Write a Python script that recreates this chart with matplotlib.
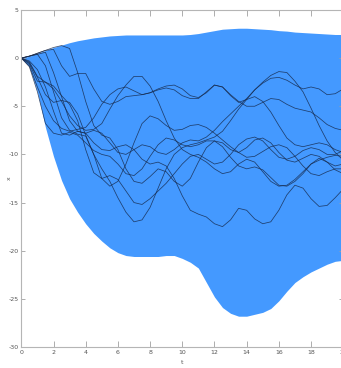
import numpy as np
import matplotlib
matplotlib.use("Agg")
import matplotlib.pyplot as plt

t = np.arange(0, 20.5, 0.5)

upper = [0, 0.2, 0.5, 0.8, 1.1, 1.35, 1.6, 1.8, 1.95, 2.1, 2.2, 2.3, 2.35, 2.4, 2.4, 2.4,
         2.4, 2.4, 2.4, 2.4, 2.4, 2.45, 2.55, 2.7, 2.85, 3.0, 3.05, 3.1, 3.1, 3.05, 3.0, 2.95,
         2.85, 2.8, 2.7, 2.65, 2.6, 2.55, 2.5, 2.45, 2.45]
lower = [0, -0.9, -3.5, -7.2, -10.2, -12.7, -14.6, -16.0, -17.2, -18.2, -19.0, -19.7, -20.2,
         -20.5, -20.6, -20.6, -20.6, -20.6, -20.5, -20.5, -20.8, -21.2, -21.8, -23.3, -24.8,
         -25.9, -26.5, -26.8, -26.8, -26.6, -26.4, -26.0, -25.2, -24.2, -23.3, -22.7, -22.2,
         -21.8, -21.4, -21.1, -21.0]

c1 = [0, 0.2, 0.5, 0.8, 1.1, 1.3, 1.0, -1.5, -4.5, -7.0, -8.0, -8.3, -9.5, -11.5, -12.8, -13.0,
      -12.3, -11.5, -11.8, -12.8, -13.3, -12.5, -10.8, -9.3, -8.6, -8.8, -9.5, -9.8, -9.3, -8.5,
      -8.3, -8.8, -9.8, -10.6, -10.8, -10.4, -10.0, -10.2, -10.8, -11.2, -11.0]
c2 = [0, 0.2, 0.5, 0.8, 0.9, -0.8, -1.9, -1.6, -1.6, -3.2, -4.5, -4.8, -4.5, -4.0, -3.9, -3.8,
      -3.6, -3.3, -3.1, -3.3, -3.9, -4.2, -4.2, -3.5, -2.8, -3.0, -3.8, -4.5, -5.0, -5.0, -4.6,
      -4.2, -4.3, -4.8, -5.2, -5.4, -5.6, -6.2, -6.9, -7.3, -7.5]
c3 = [0, -0.6, -2.4, -2.5, -3.2, -4.5, -6.0, -7.0, -7.5, -7.4, -6.8, -5.3, -3.9, -2.8, -1.9,
      -1.9, -2.9, -4.5, -6.5, -8.3, -9.5, -10.0, -10.3, -10.8, -11.5, -12.0, -11.8, -11.0,
      -10.5, -10.8, -11.8, -12.8, -13.3, -13.2, -12.6, -11.8, -11.0, -10.6, -10.3, -10.1, -10.2]
c4 = [0, -0.5, -2.0, -3.8, -4.6, -4.4, -4.6, -5.8, -8.0, -10.0, -11.5, -12.8, -14.5, -16.0,
      -17.0, -16.8, -15.5, -13.5, -11.5, -10.0, -9.3, -9.0, -8.8, -8.5, -8.2, -7.6, -6.5, -5.3,
      -4.3, -4.0, -4.5, -5.6, -7.0, -8.3, -9.0, -9.2, -9.0, -8.8, -9.0, -9.5, -9.8]
c5 = [0, 0.2, 0.4, 0.6, -1.5, -4.0, -6.5, -7.6, -7.8, -7.5, -7.8, -8.8, -9.8, -10.0, -9.5,
      -9.0, -9.2, -9.8, -10.0, -9.5, -8.8, -8.5, -8.6, -8.2, -7.5, -6.6, -5.8, -5.0, -4.2, -3.3,
      -2.5, -1.8, -1.4, -1.5, -2.4, -3.5, -5.2, -7.0, -8.6, -9.8, -10.6]
c6 = [0, -0.4, -1.9, -2.5, -2.9, -3.9, -4.8, -6.5, -9.5, -11.9, -12.5, -12.2, -12.6, -13.8,
      -15.0, -15.2, -14.6, -13.8, -13.0, -12.0, -11.0, -10.2, -10.0, -10.5, -11.0, -10.8,
      -10.0, -9.0, -8.4, -8.2, -8.6, -9.5, -10.3, -10.5, -10.2, -9.6, -9.3, -9.5, -10.0, -10.0, -9.6]
c7 = [0, 0.2, 0.4, -0.8, -3.5, -6.2, -7.5, -7.9, -8.1, -10.0, -12.5, -13.3, -12.8, -11.0, -8.8,
      -6.8, -6.0, -6.3, -7.0, -7.5, -7.4, -7.0, -6.9, -7.2, -7.8, -8.5, -9.2, -9.8, -10.3,
      -10.2, -9.7, -9.2, -9.0, -9.3, -10.2, -11.2, -12.0, -12.2, -11.8, -11.5, -11.5]
c8 = [0, -0.8, -3.0, -5.0, -6.5, -7.3, -7.6, -7.4, -7.2, -6.2, -4.8, -3.8, -3.2, -3.0, -3.4,
      -3.8, -3.6, -3.2, -2.9, -2.8, -3.2, -3.9, -4.1, -3.6, -2.8, -3.0, -3.9, -4.6, -4.3, -3.3,
      -2.6, -2.1, -2.0, -2.3, -2.8, -3.2, -3.0, -3.2, -3.8, -3.7, -3.2]
c9 = [0, -0.3, -1.2, -3.0, -5.5, -7.8, -8.0, -7.6, -7.8, -8.8, -9.5, -9.6, -9.2, -9.0, -9.5,
      -10.5, -11.0, -10.8, -11.2, -12.5, -14.3, -15.8, -16.2, -16.5, -17.2, -17.5, -16.8,
      -15.6, -15.8, -16.7, -17.2, -17.0, -15.8, -14.2, -13.2, -13.5, -14.6, -15.4, -15.3,
      -14.5, -13.6]
c10 = [0, -0.9, -3.5, -6.8, -7.8, -8.0, -7.7, -8.0, -8.8, -9.6, -10.0, -10.2, -11.0, -12.0,
       -12.2, -11.5, -10.2, -9.0, -8.3, -8.5, -9.0, -9.2, -9.0, -8.6, -8.6, -9.2, -10.3, -11.2,
       -11.5, -11.3, -11.6, -12.4, -13.2, -13.3, -12.8, -12.0, -11.0, -10.4, -10.8, -11.6, -12.0]
samples = [c1, c2, c3, c4, c5, c6, c7, c8, c9, c10]

xticks = list(range(0, 21, 2))
yticks = [5, 0, -5, -10, -15, -20, -25, -30]

fig = plt.figure(figsize=(3.41, 3.68), dpi=100)
ax = fig.add_axes([0.0625, 0.057, 0.944, 0.916])
ax.fill_between(t, lower, upper, color="#4499ff", linewidth=0)
for s in samples:
    ax.plot(t, s, color="#15284a", linewidth=0.55, alpha=0.8)

ax.set_xlim(0, 20)
ax.set_ylim(-30, 5)
ax.set_xticks(xticks)
ax.set_xticklabels([str(v) for v in xticks])
ax.set_yticks(yticks)
ax.set_yticklabels([str(v) for v in yticks])
for sp in ax.spines.values():
    sp.set_color("#b5b5b5")
    sp.set_linewidth(0.8)
ax.tick_params(direction="in", length=3, width=0.6, color="#a0a0a0",
               labelsize=4.5, labelcolor="#555555", top=True, right=True, pad=2)
ax.tick_params(axis="x", length=4.5)
ax.set_xlabel("t", fontsize=4.5, color="#555555")
ax.set_ylabel("x", fontsize=4.5, color="#555555")
ax.xaxis.set_label_coords(0.5, -0.038)
ax.yaxis.set_label_coords(-0.03, 0.5)
fig.savefig("out.png", dpi=100)
